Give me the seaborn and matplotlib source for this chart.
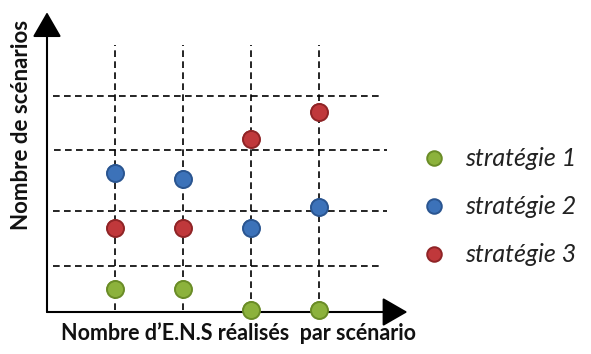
import matplotlib
matplotlib.use("Agg")
import matplotlib.pyplot as plt
import seaborn as sns
import pandas as pd

# Number of E.N.S carried out per scenario (category positions on the x axis)
ens_positions = [1, 2, 3, 4]

# Number of scenarios for each strategy, at each x position
strategie_1 = [0.42, 0.42, 0.04, 0.04]
strategie_2 = [2.53, 2.42, 1.53, 1.91]
strategie_3 = [1.53, 1.53, 3.15, 3.64]

strategy_names = ["stratégie 1", "stratégie 2", "stratégie 3"]
strategy_colors = ["#8cb23c", "#3c72b9", "#c0383b"]
strategy_edges = ["#6a8c27", "#2a5590", "#8f2426"]

# Reference levels drawn as horizontal dashed lines
h_levels = [0.84, 1.84, 2.95, 3.93]
h_spans = [(0.09, 4.9), (0.09, 5.0), (0.1, 5.0), (0.09, 4.9)]

rows = []
for name, vals in zip(strategy_names, [strategie_1, strategie_2, strategie_3]):
    for x, y in zip(ens_positions, vals):
        rows.append({"ens": x, "scenarios": y, "strategie": name})
df = pd.DataFrame(rows)

sns.set_theme(style="white")
plt.rcParams["font.family"] = ["Lato", "DejaVu Sans"]

W, H = 591, 354
fig = plt.figure(figsize=(W / 100, H / 100), dpi=100)
px_x0, px_y0 = 47, 312
xunit, yunit = 68.0, 55.0
xmax, ymax = 5.3, 5.45
ax = fig.add_axes([px_x0 / W, (H - px_y0) / H, xmax * xunit / W, ymax * yunit / H])
ax.set_xlim(0, xmax)
ax.set_ylim(0, ymax)
for s in ax.spines.values():
    s.set_visible(False)
ax.set_xticks([])
ax.set_yticks([])
ax.patch.set_alpha(0)

dash = (0, (4.0, 2.6))
for x in ens_positions:
    ax.plot([x, x], [0.03, 4.85], color="black", lw=1.2, linestyle=dash, zorder=1)
for y, (a, b) in zip(h_levels, h_spans):
    ax.plot([a, b], [y, y], color="black", lw=1.2, linestyle=dash, zorder=1)

# Axes drawn as arrows
arrow_kw = dict(arrowstyle="-|>,head_length=1.3,head_width=0.75", color="black", lw=1.5,
                shrinkA=0, shrinkB=0)
ax.annotate("", xy=(xmax, 0), xytext=(0, 0), arrowprops=arrow_kw, annotation_clip=False)
ax.annotate("", xy=(0, ymax), xytext=(0, 0), arrowprops=arrow_kw, annotation_clip=False)

sns.scatterplot(data=df, x="ens", y="scenarios", hue="strategie",
                palette=dict(zip(strategy_names, strategy_colors)),
                s=150, linewidth=0, ax=ax, zorder=3, legend=False, clip_on=False)
for name, col, ec in zip(strategy_names, strategy_colors, strategy_edges):
    sub = df[df["strategie"] == name]
    ax.scatter(sub["ens"], sub["scenarios"], s=150, facecolor=col, edgecolor=ec,
               linewidth=1.4, zorder=4, clip_on=False)
ax.set_xlabel("")
ax.set_ylabel("")

# Axis titles
fig.text(239 / W, 1 - 333 / H, "Nombre d\u2019E.N.S réalisés  par scénario", fontsize=15.5,
         fontweight="bold", color="#111111", ha="center", va="center")
fig.text(22 / W, 1 - 125 / H, "Nombre de scénarios", fontsize=16, fontweight="bold",
         color="#111111", ha="center", va="center", rotation=90)

# Legend
handles = [plt.Line2D([], [], marker="o", linestyle="", markersize=10.5,
                      markerfacecolor=c, markeredgecolor=e, markeredgewidth=1.4)
           for c, e in zip(strategy_colors, strategy_edges)]
leg = fig.legend(handles, strategy_names, loc="center left",
                 bbox_to_anchor=(399 / W, 1 - 207 / H), frameon=False,
                 prop={"family": ["Lato", "DejaVu Sans"], "style": "italic", "size": 18},
                 labelspacing=1.0, handletextpad=0.75, handlelength=1.0)
for t in leg.get_texts():
    t.set_color("#222222")

fig.savefig("out.png", dpi=100, facecolor="white")
